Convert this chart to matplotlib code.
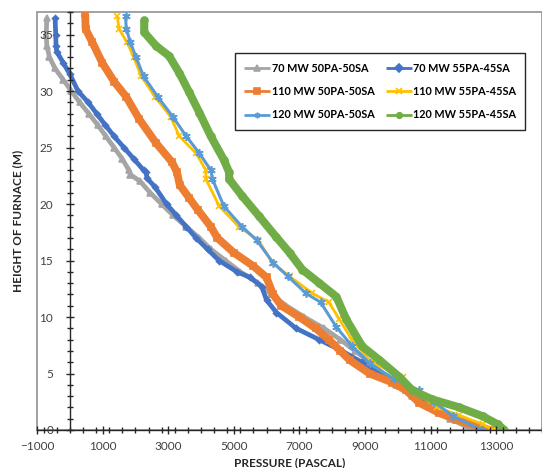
import matplotlib
matplotlib.use("Agg")
import matplotlib.pyplot as plt
from matplotlib.patches import Rectangle
from matplotlib.ticker import MultipleLocator

# --- data (height in m, pressure in Pa) ---
h_70_5050 = [36.5, 35, 34, 33, 32, 31, 30, 29, 28, 27, 26, 25, 24, 23, 22.6, 22, 21, 20,
             19, 18, 17, 16, 15, 14, 13, 12, 11, 10, 9, 8, 7, 6, 5, 4, 3, 2, 1, 0]
p_70_5050 = [-700, -720, -700, -620, -450, -200, 50, 300, 580, 850, 1100, 1350, 1600, 1800, 1850, 2150, 2450, 2800,
             3150, 3550, 3950, 4300, 4750, 5200, 5750, 6150, 6600, 7150, 7750, 8250, 8700, 9150, 9550, 9950, 10450, 11000, 11600, 12300]

h_70_5545 = [36.5, 35, 34, 33.5, 32.5, 31.5, 30, 29, 28, 27, 26, 25, 24, 23, 22.8, 22.3, 21.5, 20,
             19, 18, 17, 16, 15, 14, 13.5, 12.7, 11.5, 10.4, 9, 8, 7, 6, 5, 4, 3, 2, 1, 0]
p_70_5545 = [-450, -430, -420, -400, -200, 0, 250, 560, 820, 1080, 1350, 1650, 1950, 2250, 2330, 2350, 2600, 2950,
             3250, 3550, 3850, 4200, 4550, 5100, 5500, 5850, 6000, 6300, 6900, 7600, 8300, 8900, 9400, 9950, 10500, 11100, 11800, 12700]

h_110_5050 = [36.8, 35.5, 34.3, 32.5, 30.8, 29.5, 27.5, 25.4, 23.7, 22.8, 21.7, 20.5, 19.5, 18, 17, 15.7, 14.5,
              13.5, 12, 11, 10, 9, 8, 7, 6.2, 5, 4.2, 3.5, 2.4, 1.5, 0.9, 0]
p_110_5050 = [470, 480, 690, 990, 1360, 1720, 2120, 2630, 3120, 3270, 3350, 3650, 3900, 4300, 4500, 5000, 5600,
              6000, 6200, 6450, 7000, 7500, 7900, 8250, 8530, 9140, 9840, 10260, 10660, 11270, 11790, 12800]

h_110_5545 = [36.6, 35.5, 34.3, 33, 31.3, 29.5, 27.7, 26, 24.5, 23, 22.2, 19.8, 18, 16.8, 14.8, 13.6, 12.1,
              11.3, 9.8, 8, 6, 4.7, 3.5, 2, 1.3, 0.5, 0]
p_110_5545 = [1450, 1500, 1750, 1950, 2180, 2600, 3080, 3340, 3850, 4150, 4150, 4560, 5150, 5750, 6180, 6700, 7400,
              7900, 8220, 8600, 9200, 10150, 10450, 11200, 11880, 12600, 12900]

h_120_5050 = [36.6, 35.5, 34.3, 33, 31.3, 29.5, 27.7, 26, 24.5, 23, 22.2, 19.8, 18, 16.8, 14.8, 13.6, 12.1,
              11.3, 9.1, 7.4, 5.9, 4.5, 3.5, 2.5, 1.2, 0]
p_120_5050 = [1700, 1720, 1850, 2020, 2250, 2680, 3150, 3550, 3950, 4300, 4350, 4700, 5250, 5700, 6200, 6650, 7200,
              7650, 8130, 8620, 9140, 9900, 10660, 11100, 11700, 12550]

h_120_5545 = [36.3, 35.2, 34, 33.1, 31.6, 29.9, 28.1, 26, 23.9, 22.8, 22.2, 20.7, 18.9, 17.1, 15.7, 14.2, 13,
              11.8, 9.8, 7.4, 6.2, 4.7, 3.5, 2.7, 2, 1.2, 0.5, 0]
p_120_5545 = [2270, 2270, 2630, 3030, 3340, 3640, 3950, 4300, 4700, 4860, 4860, 5260, 5780, 6290, 6700, 7090, 7610,
              8130, 8430, 8920, 9440, 10050, 10450, 11060, 11880, 12600, 13050, 13250]

series_labels = ["70 MW 50PA-50SA", "70 MW 55PA-45SA", "110 MW 50PA-50SA",
                 "110 MW 55PA-45SA", "120 MW 50PA-50SA", "120 MW 55PA-45SA"]

x_ticks = [-1000, 1000, 3000, 5000, 7000, 9000, 11000, 13000]
y_ticks = [0, 5, 10, 15, 20, 25, 30, 35]

# --- styles (Excel office palette) ---
styles = [
    dict(color="#A5A5A5", marker="^", lw=3.4, ms=4.5),
    dict(color="#4472C4", marker="D", lw=3.4, ms=3),
    dict(color="#ED7D31", marker="s", lw=5.6, ms=5),
    dict(color="#FFC000", marker="x", lw=2.0, ms=5),
    dict(color="#5B9BD5", marker=(6, 2, 0), lw=2.2, ms=6),
    dict(color="#70AD47", marker="o", lw=5.8, ms=5),
]

data = [(p_70_5050, h_70_5050), (p_70_5545, h_70_5545), (p_110_5050, h_110_5050),
        (p_110_5545, h_110_5545), (p_120_5050, h_120_5050), (p_120_5545, h_120_5545)]

plt.rcParams["font.family"] = ["Lato", "DejaVu Sans"]

fig = plt.figure(figsize=(5.42, 4.68), dpi=100)
ax = fig.add_axes([0.0683, 0.0812, 0.9317, 0.8932])

handles = []
for (px, hy), lab, st in zip(data, series_labels, styles):
    ln, = ax.plot(px, hy, color=st["color"], lw=st["lw"], marker=st["marker"],
                  ms=st["ms"], mew=1.2, mec=st["color"], mfc=st["color"],
                  label=lab, solid_joinstyle="round", solid_capstyle="butt", zorder=2)
    handles.append(ln)

ax.set_xlim(-1000, 14400)
ax.set_ylim(0, 37)
ax.xaxis.set_zorder(3)
ax.yaxis.set_zorder(3)

# axes cross at x = 0, like the Excel chart
ax.spines["left"].set_position(("data", 0))
ax.spines["right"].set_visible(False)
ax.spines["top"].set_visible(False)
for s in ("left", "bottom"):
    ax.spines[s].set_color("#262626")
    ax.spines[s].set_linewidth(1.0)

# plot-area border
ax.add_patch(Rectangle((0, 0), 1, 1, transform=ax.transAxes, fill=False,
                       edgecolor="#9A9A9A", lw=1.3, clip_on=False, zorder=0))

ax.set_xticks(x_ticks)
ax.set_yticks(y_ticks)
ax.xaxis.set_minor_locator(MultipleLocator(400))
ax.yaxis.set_minor_locator(MultipleLocator(1))
ax.tick_params(which="major", direction="inout", length=6, width=1, color="#262626",
               labelsize=8.5, labelcolor="#404040")
ax.tick_params(which="minor", direction="inout", length=4, width=1, color="#262626")
ax.tick_params(axis="x", pad=5)
ax.tick_params(axis="y", pad=9)

ax.set_xlabel("PRESSURE (PASCAL)", fontsize=8.5, fontweight="bold", color="#262626", labelpad=4)
ax.set_ylabel("HEIGHT OF FURNACE (M)", fontsize=8.5, fontweight="bold", color="#262626")
ax.yaxis.set_label_coords(-0.028, 0.5)

# legend is filled row by row in the reference
order = [0, 2, 4, 1, 3, 5]
leg = ax.legend([handles[i] for i in order], [series_labels[i] for i in order],
                ncol=2, loc="upper right", bbox_to_anchor=(0.978, 0.914),
                frameon=True, fancybox=False, edgecolor="#262626", framealpha=1,
                prop=dict(family=["Lato", "DejaVu Sans"], weight="bold", size=7.8),
                handlelength=2.4, handletextpad=0.15, columnspacing=1.0,
                labelspacing=1.15, borderpad=0.85)
leg.set_zorder(5)
leg.get_frame().set_linewidth(1.0)
for ln in leg.get_lines():
    ln.set_linewidth(2.0)
    ln.set_markersize(4)

fig.savefig("out.png", dpi=100)
